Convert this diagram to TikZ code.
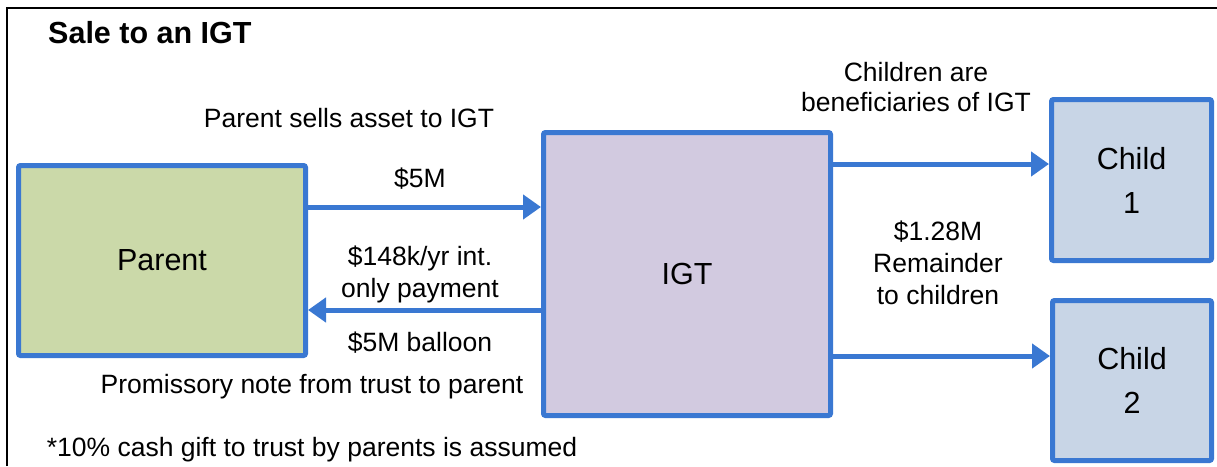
\documentclass[tikz,border=0pt]{standalone}
\usepackage{fontspec}
\setmainfont{Liberation Sans}
\usetikzlibrary{arrows.meta}
\definecolor{flowblue}{RGB}{58,120,210}
\definecolor{parentfill}{RGB}{203,217,169}
\definecolor{trustfill}{RGB}{210,202,224}
\definecolor{childfill}{RGB}{200,213,230}
\tikzset{
  entity/.style={draw=flowblue, line width=5pt, rounded corners=2pt, inner sep=0pt,
    align=center, font=\fontsize{30.5}{44}\selectfont},
  flow/.style={draw=flowblue, line width=5pt, -{Triangle[length=18pt,width=24pt]}},
  note/.style={inner sep=0pt, align=center, font=\fontsize{26.5}{32}\selectfont},
}
\begin{document}
\begin{tikzpicture}[x=1pt,y=-1pt]
\useasboundingbox (0,0) rectangle (1217,466);
% frame
\coordinate (fl) at (7,466);
\coordinate (fc) at (7,8);
\coordinate (fr) at (1217,8);
\draw[line width=2.5pt, black] (fl) -- (fc) -- (fr);
% title
\node[anchor=west, inner sep=0pt, font=\fontsize{30.5}{36}\selectfont\bfseries] (title) at (48,33) {Sale to an IGT};
% boxes
\node[entity, fill=parentfill, minimum width=287pt, minimum height=190pt] (parent) at (162,260.5) {Parent};
\node[entity, fill=trustfill, minimum width=287pt, minimum height=283pt] (igt) at (687,274) {IGT};
\node[entity, fill=childfill, minimum width=160pt, minimum height=161pt] (c1) at (1131.5,180) {Child\\1};
\node[entity, fill=childfill, minimum width=159pt, minimum height=160pt] (c2) at (1132,380.5) {Child\\2};
% flows
\draw[flow] (parent.east |- 0,207) -- (igt.west |- 0,207);
\draw[flow] (igt.west |- 0,310) -- (parent.east |- 0,310);
\draw[flow] (igt.east |- 0,164) -- (c1.west |- 0,164);
\draw[flow] (igt.east |- 0,356) -- (c2.west |- 0,356);
% labels
\node[note] (sells) at (349,118) {Parent sells asset to IGT};
\node[note] (five) at (420,179) {\$5M};
\node[note] (interest) at (420,274) {\$148k/yr int.\\only payment};
\node[note] (balloon) at (420,343) {\$5M balloon};
\node[note] (prom) at (312,387) {Promissory note from trust to parent};
\node[note] (gift) at (312,450) {*10\% cash gift to trust by parents is assumed};
\node[note, font=\fontsize{26.5}{30}\selectfont] (benef) at (916,87) {Children are\\beneficiaries of IGT};
\node[note] (remain) at (938,263) {\$1.28M\\Remainder\\to children};
\end{tikzpicture}
\end{document}
